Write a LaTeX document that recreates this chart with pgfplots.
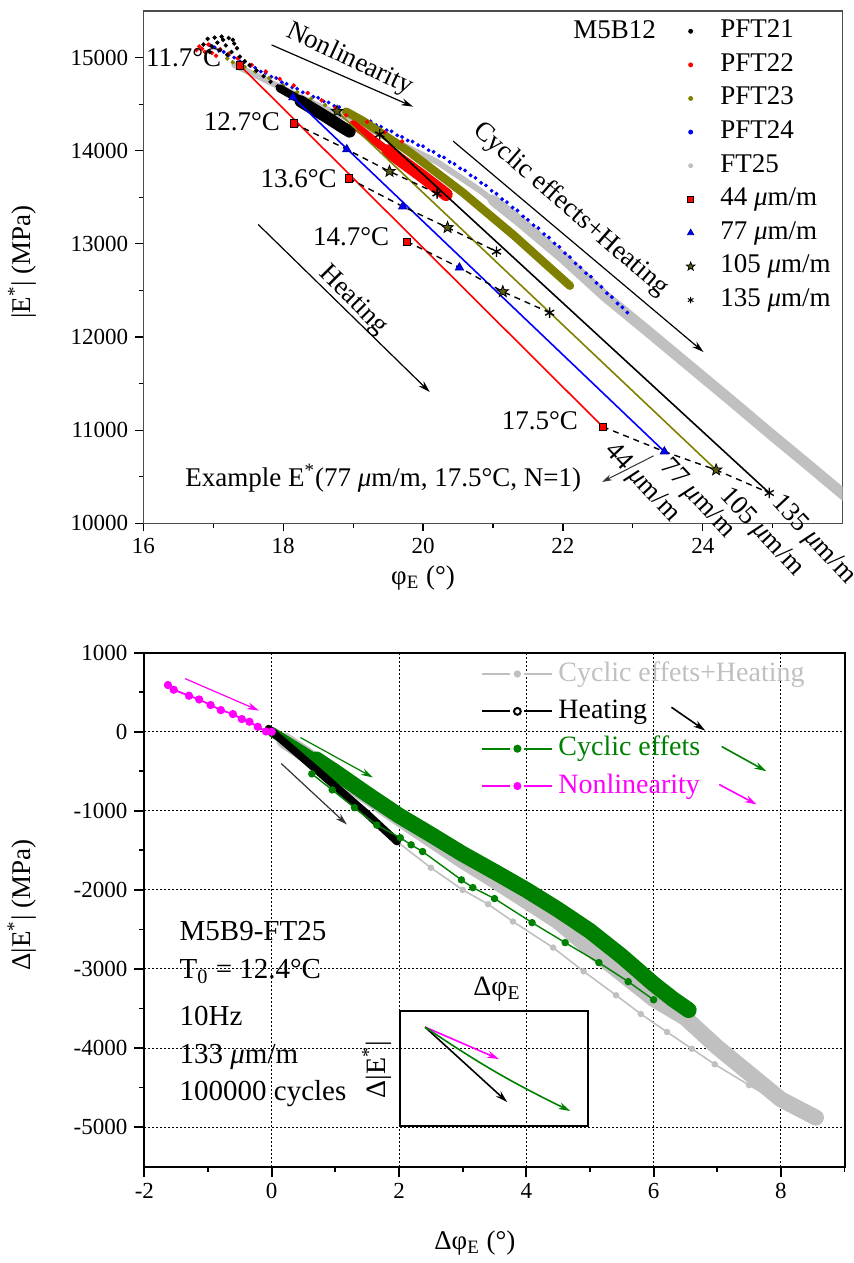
\documentclass[border=0pt]{standalone}
\usepackage{fontspec}
\setmainfont{Liberation Serif}
\usepackage{pgfplots}
\pgfplotsset{compat=1.18}
\usetikzlibrary{arrows.meta}
\definecolor{lgray}{RGB}{192,192,192}
\definecolor{olv}{RGB}{128,128,0}
\definecolor{dolv}{RGB}{90,90,20}
\definecolor{dgreen}{RGB}{0,128,0}
\definecolor{mag}{RGB}{255,0,255}
\newcommand{\fA}{\fontsize{13.5}{16}\selectfont}
\newcommand{\fT}{\fontsize{11.5}{13}\selectfont}
\newcommand{\fL}{\fontsize{14}{16}\selectfont}
\newcommand{\fB}{\fontsize{14.5}{17}\selectfont}
\newcommand{\mum}{\textit{μ}m/m}
\pgfdeclareplotmark{fstar}{%
  \pgfpathmoveto{\pgfpointpolar{90}{\pgfplotmarksize}}%
  \pgfpathlineto{\pgfpointpolar{126}{0.42\pgfplotmarksize}}%
  \pgfpathlineto{\pgfpointpolar{162}{\pgfplotmarksize}}%
  \pgfpathlineto{\pgfpointpolar{198}{0.42\pgfplotmarksize}}%
  \pgfpathlineto{\pgfpointpolar{234}{\pgfplotmarksize}}%
  \pgfpathlineto{\pgfpointpolar{270}{0.42\pgfplotmarksize}}%
  \pgfpathlineto{\pgfpointpolar{306}{\pgfplotmarksize}}%
  \pgfpathlineto{\pgfpointpolar{342}{0.42\pgfplotmarksize}}%
  \pgfpathlineto{\pgfpointpolar{18}{\pgfplotmarksize}}%
  \pgfpathlineto{\pgfpointpolar{54}{0.42\pgfplotmarksize}}%
  \pgfpathclose\pgfusepathqfillstroke}
\begin{document}
\begin{tikzpicture}
\path[use as bounding box] (0,0) rectangle (426.5pt,631.5pt);
% ================= TOP =================
\begin{axis}[
  at={(71.65pt,369.85pt)}, anchor=south west, scale only axis,
  width=349.7pt, height=256.15pt,
  xmin=16, xmax=26, ymin=10000, ymax=15500,
  xtick={16,18,20,22,24}, minor xtick={17,19,21,23,25},
  ytick={10000,11000,12000,13000,14000,15000},
  minor ytick={10500,11500,12500,13500,14500},
  tick pos=left, tick align=outside,
  major tick length=4pt, minor tick length=2.2pt,
  tick style={black, line width=0.6pt},
  axis line style={black!70, line width=0.6pt},
  scaled ticks=false,
  /pgf/number format/1000 sep={},
  /pgf/number format/assume math mode=true,
  tick label style={font=\fT},
  xlabel={φ\textsubscript{E} (°)}, ylabel={|E\textsuperscript{*}| (MPa)},
  label style={font=\fA},
  xlabel style={at={(axis description cs:0.40,-0.107)}, anchor=center},
  ylabel style={at={(axis description cs:-0.173,0.51)}, anchor=center},
  clip mode=individual,
  legend image code/.code={\path[draw=none, fill=none] (-4pt,-3pt) rectangle (4pt,3pt); \draw[#1] plot coordinates {(0pt,0pt)};},
  legend style={at={(axis cs:23.706,15453)}, anchor=north west, draw=none, fill=none,
    inner sep=0pt, column sep=9.8pt, row sep=1.3pt, font=\fA,
    nodes={inner sep=1pt, text height=10pt, text depth=3.5pt}},
  legend cell align=left,
]
% FT25 gray band
\addplot[lgray, line width=3pt, line cap=round, line join=round, forget plot] coordinates {
(17.3,14920)(17.8,14740)(18.4,14520)(19.0,14320)(19.6,14100)(20.2,13880)(20.8,13580)(21.2,13350)};
\addplot[lgray, line width=5.5pt, line cap=round, line join=round, forget plot] coordinates {
(21.0,13470)(21.4,13230)(22.0,12850)(22.6,12440)(23.2,12070)(23.8,11695)(24.4,11320)(25.0,10940)(25.5,10630)(26.2,10190)};
% PFT24 blue dots
\addplot[only marks, mark=*, mark size=0.75pt, blue, forget plot] coordinates {
(16.95,15135)(17.02,15110)(17.08,15075)(17.15,15060)(17.22,15025)(17.3,15000)(17.38,14960)(17.45,14955)(17.53,14910)(17.6,14890)
(17.68,14850)(17.75,14835)(17.83,14795)(17.9,14780)(17.98,14735)(18.05,14718)(18.13,14680)(18.2,14665)(18.28,14627)(18.35,14618)
(18.43,14580)(18.5,14568)(18.58,14530)(18.65,14518)(18.73,14480)(18.8,14468)(18.88,14430)(18.95,14418)(19.03,14375)(19.1,14358)
(19.18,14325)(19.25,14316)(19.33,14275)(19.4,14258)(19.48,14220)(19.55,14208)(19.63,14165)(19.7,14148)(19.78,14110)(19.85,14098)
(19.93,14060)(20.0,14048)(20.08,14005)(20.15,13988)(20.23,13945)(20.3,13928)(20.38,13880)(20.45,13858)(20.53,13810)(20.6,13788)
(20.68,13735)(20.75,13708)(20.83,13655)(20.9,13628)(20.98,13570)(21.05,13538)(21.13,13480)(21.2,13448)(21.28,13390)(21.35,13358)
(21.43,13295)(21.5,13258)(21.58,13200)(21.65,13168)(21.73,13105)(21.8,13068)(21.88,13005)(21.95,12968)(22.03,12900)(22.1,12858)
(22.18,12790)(22.25,12748)(22.33,12685)(22.4,12648)(22.48,12580)(22.55,12538)(22.63,12470)(22.7,12428)(22.78,12360)(22.85,12318)(22.92,12262)};
% PFT23 olive
\addplot[only marks, mark=*, mark size=0.9pt, olv, forget plot] coordinates {
(17.2,14990)(17.28,14950)(17.35,14930)(17.45,14900)(17.6,14850)(17.8,14780)(18.0,14700)(18.2,14630)(18.4,14560)(18.6,14490)(18.8,14420)};
\addplot[olv, line width=4.2pt, line cap=round, line join=round, forget plot] coordinates {
(18.9,14420)(19.14,14320)(19.8,13990)(20.57,13550)(21.3,13090)(22.1,12550)};
% PFT22 red
\addplot[only marks, mark=*, mark size=0.9pt, red, forget plot] coordinates {
(16.76,15080)(16.80,15120)(16.84,15095)(16.88,15060)(16.93,15140)(16.98,15050)(17.04,15020)(17.10,15090)(17.22,15040)(17.35,14990)
(17.55,14920)(17.75,14850)(17.95,14770)(18.15,14700)(18.35,14620)(18.55,14540)(18.75,14460)(18.9,14380)(19.2,14310)(19.45,14200)(19.7,14100)};
\addplot[red, line width=4pt, line cap=round, line join=round, forget plot] coordinates {
(19.0,14285)(19.3,14110)(19.62,13930)};
\addplot[red, line width=6.5pt, line cap=round, line join=round, forget plot] coordinates {
(19.5,14000)(19.62,13930)(20.0,13720)(20.33,13530)};
% PFT21 black
\addplot[only marks, mark=*, mark size=0.9pt, black, forget plot] coordinates {
(16.86,15140)(16.92,15200)(16.98,15120)(17.02,15215)(17.06,15160)(17.10,15080)(17.14,15190)(17.18,15130)(17.22,15210)(17.26,15060)
(17.30,15150)(17.34,15100)(17.38,15010)(16.95,15060)(17.20,15030)(17.12,15225)(17.28,15190)(17.45,14960)(17.52,14920)(17.62,14860)
(17.72,14800)(17.82,14740)(17.92,14690)};
\addplot[black, line width=4pt, line cap=round, line join=round, forget plot] coordinates {
(17.95,14670)(18.3,14520)};
\addplot[black, line width=6pt, line cap=round, line join=round, forget plot] coordinates {
(18.25,14530)(18.6,14370)(18.85,14250)(18.95,14205)};
% heating lines per strain
\addplot[red, line width=0.8pt, forget plot] coordinates {(17.38,14917)(22.57,11036)};
\addplot[blue, line width=0.8pt, forget plot] coordinates {(18.14,14573)(23.45,10770)};
\addplot[olv, line width=0.8pt, forget plot] coordinates {(18.77,14423)(24.19,10573)};
\addplot[black, line width=0.8pt, forget plot] coordinates {(19.38,14175)(24.95,10326)};
% isotherms
\addplot[black, line width=0.7pt, dash pattern=on 3pt off 2.5pt, forget plot] coordinates {(18.15,14294)(18.91,14014)(19.52,13778)(20.20,13541)};
\addplot[black, line width=0.7pt, dash pattern=on 3pt off 2.5pt, forget plot] coordinates {(18.94,13702)(19.71,13401)(20.35,13175)(21.05,12917)};
\addplot[black, line width=0.7pt, dash pattern=on 3pt off 2.5pt, forget plot] coordinates {(19.77,13025)(20.52,12745)(21.14,12487)(21.81,12261)};
\addplot[black, line width=0.7pt, dash pattern=on 3pt off 2.5pt, forget plot] coordinates {(22.57,11036)(23.45,10770)(24.19,10573)(24.95,10326)};
% strain markers
\addplot[only marks, mark=square*, mark size=1.8pt, mark options={fill=red, draw=black, line width=0.4pt}, forget plot] coordinates {
(17.38,14917)(18.15,14294)(18.94,13702)(19.77,13025)(22.57,11036)};
\addplot[only marks, mark=triangle*, mark size=2.4pt, mark options={fill=blue, draw=blue!60!black, line width=0.4pt}, forget plot] coordinates {
(18.14,14573)(18.91,14014)(19.71,13401)(20.52,12745)(23.45,10770)};
\addplot[only marks, mark=fstar, mark size=3pt, mark options={fill=dolv, draw=black, line width=0.4pt}, forget plot] coordinates {
(18.77,14423)(19.52,13778)(20.35,13175)(21.14,12487)(24.19,10573)};
\addplot[only marks, mark=asterisk, mark size=2.6pt, mark options={draw=black, line width=0.7pt}, forget plot] coordinates {
(19.38,14175)(20.20,13541)(21.05,12917)(21.81,12261)(24.95,10326)};
% legend
\addlegendimage{black, mark=*, mark size=1pt}\addlegendentry{PFT21}
\addlegendimage{red, mark=*, mark size=1pt}\addlegendentry{PFT22}
\addlegendimage{olv, mark=*, mark size=1pt}\addlegendentry{PFT23}
\addlegendimage{blue, mark=*, mark size=1pt}\addlegendentry{PFT24}
\addlegendimage{lgray, mark=*, mark size=1pt}\addlegendentry{FT25}
\addlegendimage{mark=square*, mark size=1.4pt, mark options={fill=red, draw=black, line width=0.4pt}}\addlegendentry{44 \mum}
\addlegendimage{mark=triangle*, mark size=1.8pt, mark options={fill=blue, draw=blue!60!black, line width=0.4pt}}\addlegendentry{77 \mum}
\addlegendimage{mark=fstar, mark size=2.2pt, mark options={fill=dolv, draw=black, line width=0.4pt}}\addlegendentry{105 \mum}
\addlegendimage{mark=asterisk, mark size=1.6pt, mark options={draw=black, line width=0.5pt}}\addlegendentry{135 \mum}
% annotations
\node[font=\fA] at (axis cs:22.74,15304) {M5B12};
\node[font=\fA, anchor=east, inner sep=0pt] at (axis cs:17.12,15003) {11.7°C};
\node[font=\fA, anchor=east, inner sep=0pt] at (axis cs:17.96,14310) {12.7°C};
\node[font=\fA, anchor=east, inner sep=0pt] at (axis cs:18.77,13702) {13.6°C};
\node[font=\fA, anchor=east, inner sep=0pt] at (axis cs:19.52,13082) {14.7°C};
\node[font=\fA, anchor=east, inner sep=0pt] at (axis cs:22.22,11100) {17.5°C};
\draw[-{Stealth[length=6pt,width=3.5pt]}, line width=0.6pt] (axis cs:17.834,15136) -- (axis cs:19.857,14473);
\node[font=\fA, rotate=-25] at (axis cs:18.95,14980) {Nonlinearity};
\draw[-{Stealth[length=6pt,width=3.5pt]}, line width=0.6pt] (axis cs:20.43,14103) -- (axis cs:24.01,11839);
\node[font=\fA, rotate=-41] at (axis cs:22.11,13369) {Cyclic effects+Heating};
\draw[-{Stealth[length=6pt,width=3.5pt]}, line width=0.6pt] (axis cs:17.643,13208) -- (axis cs:20.096,11409);
\node[font=\fA, rotate=-45] at (axis cs:19.0,12390) {Heating};
\node[font=\fA, anchor=west, inner sep=0pt] at (axis cs:16.596,10487) {Example E\textsuperscript{*}(77 \mum, 17.5°C, N=1)};
\draw[-{Stealth[length=5pt,width=3pt]}, line width=0.5pt, black!80] (axis cs:23.296,10724) -- (axis cs:22.56,10444);
\node[font=\fA, rotate=-47] at (axis cs:23.13,10433) {44 \mum};
\node[font=\fA, rotate=-47] at (axis cs:23.92,10261) {77 \mum};
\node[font=\fA, rotate=-47] at (axis cs:24.84,9901) {105 \mum};
\node[font=\fA, rotate=-47] at (axis cs:25.58,9821) {135 \mum};
\end{axis}
% ================= BOTTOM =================
\begin{axis}[
  at={(72.2pt,48.2pt)}, anchor=south west, scale only axis,
  width=350.1pt, height=256.95pt,
  xmin=-2, xmax=9, ymin=-5500, ymax=1000,
  xtick={-2,0,2,4,6,8}, minor xtick={-1,1,3,5,7,9},
  ytick={-5000,-4000,-3000,-2000,-1000,0,1000},
  minor ytick={-4500,-3500,-2500,-1500,-500,500},
  grid=major, major grid style={black, line width=0.5pt, dash pattern=on 0.8pt off 1.2pt},
  tick pos=left, tick align=outside,
  major tick length=5pt, minor tick length=2.5pt,
  tick style={black, line width=0.9pt},
  axis line style={black, line width=1pt},
  scaled ticks=false,
  /pgf/number format/1000 sep={},
  /pgf/number format/assume math mode=true,
  tick label style={font=\fT},
  xlabel={Δφ\textsubscript{E} (°)}, ylabel={Δ|E\textsuperscript{*}| (MPa)},
  label style={font=\fA},
  xlabel style={at={(axis description cs:0.472,-0.149)}, anchor=center},
  ylabel style={at={(axis description cs:-0.175,0.509)}, anchor=center},
  clip mode=individual,
  legend image code/.code={\draw[#1] (0pt,0pt) -- (14pt,0pt); \draw[#1] (21pt,0pt) -- (35pt,0pt); \draw[#1] plot coordinates {(17.5pt,0pt)};},
  legend style={at={(axis cs:3.288,938)}, anchor=north west, draw=none, fill=none,
    inner sep=0pt, column sep=1.5pt, row sep=2.67pt, font=\fL,
    nodes={inner sep=1pt, text height=10.5pt, text depth=3.5pt}},
  legend cell align=left,
]
% gray band (cyclic effects + heating)
\addplot[lgray, line width=8pt, line cap=round, line join=round, forget plot] coordinates {
(0.2,-110)(1,-540)(2,-1090)(3,-1630)(3.5,-1880)(4,-2140)(4.5,-2400)(5,-2740)(5.5,-3060)(6,-3380)(6.5,-3620)(7,-3990)(7.5,-4320)(8,-4650)(8.55,-4880)};
% gray thin line
\addplot[lgray, line width=0.8pt, mark=*, mark size=1.2pt, forget plot] coordinates {
(0,0)(1.97,-1390)(2.5,-1720)(3.0,-2000)(3.4,-2181)(3.79,-2400)(4.42,-2730)(4.9,-3030)(5.41,-3333)(5.8,-3570)(6.21,-3797)(6.6,-4010)(6.96,-4206)(7.5,-4470)(8.0,-4700)(8.5,-4880)};
% green band
\addplot[dgreen, line width=5pt, line cap=round, line join=round, forget plot] coordinates {
(0,0)(0.5,-250)(1,-510)};
\addplot[dgreen, line width=8pt, line cap=round, line join=round, forget plot] coordinates {
(0.7,-350)(1,-510)(1.5,-790)(2,-1060)(2.5,-1300)(3,-1545)(3.5,-1770)(4,-2000)(4.5,-2250)(5,-2520)(5.5,-2840)(6,-3190)(6.3,-3380)(6.55,-3520)};
% heating black band
\addplot[black, line width=3.8pt, line cap=round, line join=round, forget plot] coordinates {
(-0.05,40)(0.5,-340)(1.0,-690)(1.5,-1040)(1.97,-1390)};
% green thin line
\addplot[dgreen, line width=0.7pt, mark=*, mark size=1.5pt, forget plot] coordinates {
(0.63,-532)(0.95,-735)(1.3,-960)(1.65,-1180)(2.02,-1340)(2.19,-1430)(2.37,-1515)(2.98,-1873)(3.16,-1971)(3.5,-2110)(4.09,-2414)(4.61,-2667)(5.14,-2920)(5.6,-3160)(6.0,-3390)};
% nonlinearity magenta
\addplot[mag, line width=0.9pt, mark=*, mark size=1.6pt, forget plot] coordinates {
(-1.63,591)(-1.54,532)(-1.30,456)(-1.14,409)(-0.96,338)(-0.80,274)(-0.61,224)(-0.47,161)(-0.35,127)(-0.22,63)(-0.09,4)(0,0)};
% legend
\addlegendimage{lgray, line width=1pt, mark=*, mark size=1.3pt}\addlegendentry{\textcolor{lgray}{Cyclic effets+Heating}}
\addlegendimage{black, line width=1pt, mark=o, mark size=1.7pt}\addlegendentry{Heating}
\addlegendimage{dgreen, line width=1pt, mark=*, mark size=1.5pt}\addlegendentry{\textcolor{dgreen}{Cyclic effets}}
\addlegendimage{mag, line width=1pt, mark=*, mark size=1.5pt}\addlegendentry{\textcolor{mag}{Nonlinearity}}
% arrows
\draw[mag, line width=0.6pt, -{Stealth[length=6pt,width=3.5pt]}] (axis cs:-1.36,672) -- (axis cs:-0.20,268);
\draw[dgreen, line width=0.6pt, -{Stealth[length=6pt,width=3.5pt]}] (axis cs:0.45,-73) -- (axis cs:1.59,-578);
\draw[black!80, line width=0.6pt, -{Stealth[length=6pt,width=3.5pt]}] (axis cs:0.15,-402) -- (axis cs:1.18,-1172);
\draw[black, line width=0.8pt, -{Stealth[length=6pt,width=3.5pt]}] (axis cs:6.28,310) -- (axis cs:6.81,15);
\draw[dgreen, line width=0.8pt, -{Stealth[length=6pt,width=3.5pt]}] (axis cs:7.07,-187) -- (axis cs:7.77,-499);
\draw[mag, line width=0.8pt, -{Stealth[length=6pt,width=3.5pt]}] (axis cs:7.03,-667) -- (axis cs:7.62,-920);
% text block
\node[font=\fB, anchor=base west, inner sep=0pt] at (axis cs:-1.452,-2642) {M5B9-FT25};
\node[font=\fB, anchor=base west, inner sep=0pt] at (axis cs:-1.452,-3127) {T\textsubscript{0} = 12.4°C};
\node[font=\fB, anchor=base west, inner sep=0pt] at (axis cs:-1.452,-3716) {10Hz};
\node[font=\fB, anchor=base west, inner sep=0pt] at (axis cs:-1.452,-4201) {133 \mum};
\node[font=\fB, anchor=base west, inner sep=0pt] at (axis cs:-1.452,-4663) {100000 cycles};
% inset
\draw[black, line width=1pt] (axis cs:2.02,-3534) rectangle (axis cs:4.97,-4990);
\draw[mag, line width=0.8pt, -{Stealth[length=6pt,width=3.5pt]}] (axis cs:2.41,-3736) -- (axis cs:3.57,-4140);
\draw[black, line width=0.8pt, -{Stealth[length=6pt,width=3.5pt]}] (axis cs:2.41,-3736) -- (axis cs:3.70,-4683);
\draw[dgreen, line width=0.8pt, -{Stealth[length=6pt,width=3.5pt]}] (axis cs:2.41,-3736) to[bend right=4] (axis cs:4.69,-4797);
\node[font=\fL, anchor=base west, inner sep=0pt] at (axis cs:3.163,-3330) {Δφ\textsubscript{E}};
\node[font=\fL, rotate=90] at (axis cs:1.65,-4275) {Δ|E\textsuperscript{*}|};
\end{axis}
\end{tikzpicture}
\end{document}
